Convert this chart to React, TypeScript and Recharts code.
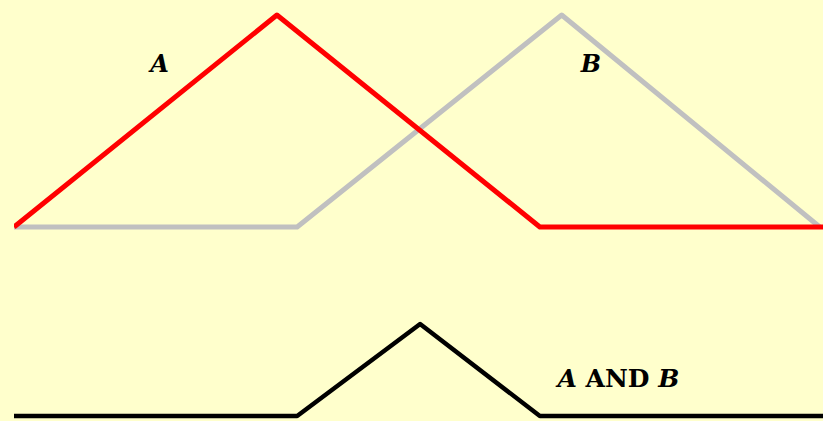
import React from 'react';
import { LineChart, Line, XAxis, YAxis, ReferenceDot } from 'recharts';

// Fuzzy set A (red)
const aX = [0, 3.25, 6.5, 10];
const aY = [0, 1, 0, 0];
// Fuzzy set B (gray)
const bX = [0, 3.5, 6.77, 9.96];
const bY = [0, 0, 1, 0];
// A AND B (black)
const abX = [0, 3.5, 5.02, 6.5, 10];
const abY = [0, 0, 0.46, 0, 0];

const labelA = { x: 1.8, y: 0.73, parts: [{ t: 'A', italic: true }] };
const labelB = { x: 7.13, y: 0.73, parts: [{ t: 'B', italic: true }] };
const labelAB = {
  x: 7.47,
  y: 0.145,
  parts: [
    { t: 'A', italic: true },
    { t: ' AND ', italic: false },
    { t: 'B', italic: true },
  ],
};

const toRows = (xs: number[], ys: number[]) => xs.map((x, i) => ({ x, y: ys[i] }));
const dataA = toRows(aX, aY);
const dataB = toRows(bX, bY);
const dataAB = toRows(abX, abY);

const BG = '#FFFFCC';
const FONT = '"DejaVu Serif", "Liberation Serif", serif';

const makeLabel = (parts: { t: string; italic: boolean }[], size: number) => (p: any) => (
  <text
    x={p.cx}
    y={p.cy}
    textAnchor="middle"
    fontFamily={FONT}
    fontWeight="bold"
    fontSize={size}
    fill="#000"
    style={{ whiteSpace: 'pre' }}
  >
    {parts.map((s, i) => (
      <tspan key={i} fontStyle={s.italic ? 'italic' : 'normal'}>
        {s.t}
      </tspan>
    ))}
  </text>
);

export default function App() {
  return (
    <div
      style={{
        position: 'absolute',
        left: 0,
        top: 0,
        width: 823,
        height: 421,
        background: BG,
        overflow: 'hidden',
      }}
    >
      <div style={{ position: 'absolute', left: 0, top: 0 }}>
        <LineChart width={823} height={240} margin={{ top: 15, right: 0, bottom: 13, left: 14 }}>
          <XAxis type="number" dataKey="x" domain={[0, 10]} hide allowDataOverflow />
          <YAxis type="number" domain={[0, 1]} hide width={0} />
          <Line
            data={dataB}
            dataKey="y"
            stroke="#C0C0C0"
            strokeWidth={5}
            dot={false}
            isAnimationActive={false}
            strokeLinejoin="round"
          />
          <Line
            data={dataA}
            dataKey="y"
            stroke="#FF0000"
            strokeWidth={5}
            dot={false}
            isAnimationActive={false}
            strokeLinejoin="round"
          />
          <ReferenceDot x={labelA.x} y={labelA.y} r={0} shape={makeLabel(labelA.parts, 24)} />
          <ReferenceDot x={labelB.x} y={labelB.y} r={0} shape={makeLabel(labelB.parts, 24)} />
        </LineChart>
      </div>
      <div style={{ position: 'absolute', left: 0, top: 300 }}>
        <LineChart width={823} height={121} margin={{ top: 16, right: 0, bottom: 5, left: 14 }}>
          <XAxis type="number" dataKey="x" domain={[0, 10]} hide allowDataOverflow />
          <YAxis type="number" domain={[0, 0.5]} hide width={0} />
          <Line
            data={dataAB}
            dataKey="y"
            stroke="#000000"
            strokeWidth={4.5}
            dot={false}
            isAnimationActive={false}
            strokeLinejoin="round"
          />
          <ReferenceDot x={labelAB.x} y={labelAB.y} r={0} shape={makeLabel(labelAB.parts, 25)} />
        </LineChart>
      </div>
    </div>
  );
}
